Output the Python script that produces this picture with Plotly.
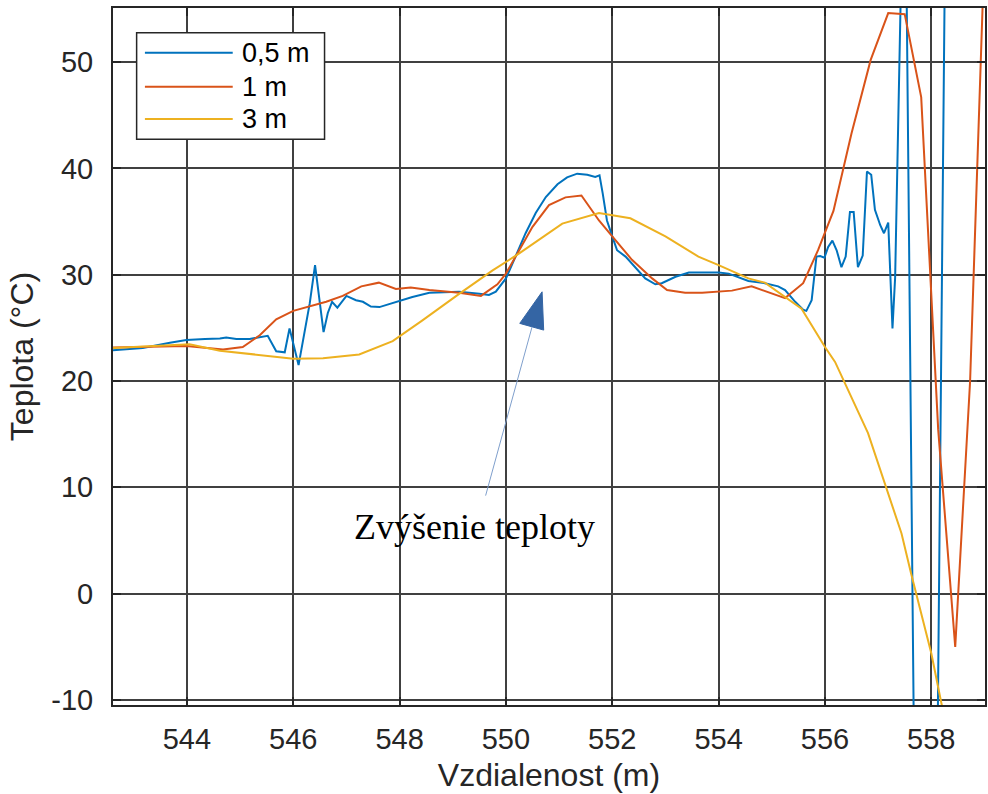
import plotly.graph_objects as go

# ---------------- data ----------------
x_05 = [542.61, 543.17, 543.68, 543.99, 544.34, 544.62, 544.74, 544.93, 545.18, 545.41,
        545.52, 545.68, 545.84, 545.93, 546.10, 546.31, 546.41, 546.57, 546.65, 546.73,
        546.83, 547.00, 547.18, 547.31, 547.46, 547.62, 547.93, 548.18, 548.24, 548.56,
        549.12, 549.50, 549.68, 549.81, 550.00, 550.18, 550.37, 550.56, 550.75, 550.97,
        551.15, 551.34, 551.53, 551.68, 551.76, 551.82, 551.90, 552.00, 552.09, 552.25,
        552.43, 552.62, 552.81, 552.93, 553.19, 553.44, 553.62, 554.00, 554.19, 554.37,
        554.56, 554.87, 555.12, 555.25, 555.44, 555.59, 555.65, 555.75, 555.84, 555.91,
        555.99, 556.06, 556.14, 556.22, 556.31, 556.39, 556.47, 556.54, 556.62, 556.71,
        556.79, 556.87, 556.94, 557.04, 557.11, 557.19, 557.27, 557.32, 557.50, 557.90,
        558.37]
y_05 = [22.9, 23.1, 23.6, 23.85, 23.95, 24.0, 24.1, 23.95, 23.95, 24.2,
        24.25, 22.8, 22.7, 24.95, 21.5, 27.3, 30.9, 24.6, 26.4, 27.45,
        26.9, 28.0, 27.6, 27.45, 27.0, 26.95, 27.45, 27.85, 27.9, 28.3,
        28.4, 28.2, 28.1, 28.4, 29.65, 31.7, 33.9, 35.8, 37.3, 38.5,
        39.15, 39.5, 39.4, 39.2, 39.35, 37.65, 35.1, 33.6, 32.3, 31.7,
        30.7, 29.65, 29.1, 29.2, 29.8, 30.2, 30.2, 30.2, 30.1, 29.75,
        29.4, 29.2, 28.9, 28.55, 27.45, 26.7, 26.6, 27.6, 31.7, 31.75,
        31.6, 32.6, 33.2, 32.3, 30.7, 31.7, 35.9, 35.9, 30.7, 31.8,
        39.7, 39.4, 36.1, 34.65, 33.9, 34.9, 24.95, 29.75, 75.0, -130.0,
        120.0]

x_1 = [542.61, 543.99, 544.68, 545.05, 545.37, 545.68, 546.00, 546.31, 546.62, 546.93,
       547.28, 547.61, 547.93, 548.21, 548.56, 549.12, 549.53, 549.84, 550.00, 550.25,
       550.50, 550.81, 551.12, 551.42, 551.75, 552.00, 552.37, 552.75, 553.03, 553.37,
       553.69, 554.25, 554.62, 555.25, 555.59, 555.87, 556.16, 556.50, 556.86, 557.19,
       557.50, 557.81, 558.13, 558.45, 558.73, 559.03]
y_1 = [23.15, 23.3, 22.97, 23.2, 24.3, 25.8, 26.6, 27.05, 27.45, 28.0,
       28.9, 29.25, 28.65, 28.8, 28.55, 28.3, 28.0, 29.1, 30.1, 32.3,
       34.5, 36.55, 37.27, 37.45, 35.1, 33.6, 31.4, 29.65, 28.55, 28.3,
       28.3, 28.5, 28.9, 27.8, 29.2, 32.3, 36.0, 43.3, 50.2, 54.6,
       54.5, 46.7, 15.4, -5.0, 20.0, 65.0]

x_3 = [542.61, 544.05, 544.62, 546.00, 546.56, 547.24, 547.87, 548.43, 549.12, 549.75,
       550.25, 551.06, 551.75, 552.34, 553.00, 553.62, 554.00, 554.56, 554.87, 555.25,
       555.56, 556.00, 556.19, 556.81, 557.44, 557.62, 558.00, 558.19, 558.31]
y_3 = [23.1, 23.45, 22.85, 22.1, 22.15, 22.5, 23.75, 25.7, 28.2, 30.4,
       32.0, 34.8, 35.8, 35.3, 33.6, 31.7, 30.9, 29.65, 29.25, 27.9,
       26.8, 23.2, 21.8, 15.1, 5.66, 1.9, -5.6, -10.3, -13.0]

series_names = ["0,5 m", "1 m", "3 m"]
series_colors = ["#0072BD", "#D95319", "#EDB120"]

x_ticks = [544, 546, 548, 550, 552, 554, 556, 558]
y_ticks = [-10, 0, 10, 20, 30, 40, 50]
x_range = [542.61, 559.01]
y_range = [-10.47, 55.08]

annot_text = "Zvýšenie teploty"
annot_text_pos = (549.40, 6.25)
arrow_start = (549.61, 9.08)
arrow_end = (550.49, 25.07)
arrow_head = [(550.68, 28.39), (550.26, 25.42), (550.71, 24.79)]

# ---------------- figure ----------------
fig = go.Figure()
for xs, ys, name, col in zip([x_05, x_1, x_3], [y_05, y_1, y_3], series_names, series_colors):
    fig.add_trace(go.Scatter(x=xs, y=ys, mode="lines", name=name,
                             line=dict(color=col, width=2), showlegend=False))

grid_col = "#404040"
axis_common = dict(showline=True, linecolor="#262626", linewidth=2, mirror="allticks",
                   ticks="inside", ticklen=8, tickwidth=1.5, tickcolor="#262626",
                   showgrid=True, gridcolor=grid_col, gridwidth=2, zeroline=False,
                   tickfont=dict(family="Liberation Sans", size=29, color="#262626"))

fig.update_xaxes(range=x_range, tickvals=x_ticks, ticktext=[str(v) for v in x_ticks],
                 title=dict(text="Vzdialenost (m)", font=dict(family="Liberation Sans", size=32, color="#262626"),
                            standoff=10),
                 ticklabelstandoff=7, **axis_common)
fig.update_yaxes(range=y_range, tickvals=y_ticks, ticktext=[str(v) for v in y_ticks],
                 title=dict(text="Teplota (°C)", font=dict(family="Liberation Sans", size=32, color="#262626"),
                            standoff=8),
                 ticklabelstandoff=12, **axis_common)

# annotation text and arrow
fig.add_annotation(x=annot_text_pos[0], y=annot_text_pos[1], text=annot_text, showarrow=False,
                   font=dict(family="Liberation Serif", size=36, color="black"))
fig.add_annotation(x=arrow_end[0], y=arrow_end[1], ax=arrow_start[0], ay=arrow_start[1],
                   axref="x", ayref="y", text="", showarrow=True, arrowhead=0,
                   arrowwidth=1, arrowcolor="#7f9fcc")
path = "M {} {} L {} {} L {} {} Z".format(arrow_head[0][0], arrow_head[0][1],
                                          arrow_head[1][0], arrow_head[1][1],
                                          arrow_head[2][0], arrow_head[2][1])
fig.add_shape(type="path", path=path, xref="x", yref="y",
              fillcolor="#3465a4", line=dict(color="#3465a4", width=1))

# legend (drawn manually to match long line samples)
leg_box = dict(x0=0.0271, x1=0.2426, y0=0.8116, y1=0.9646)
leg_line_x = (0.0366, 0.1373)
leg_rows_y = [0.9359, 0.8871, 0.8408]
leg_text_x = 0.1453
fig.add_shape(type="rect", xref="paper", yref="paper", fillcolor="white",
              line=dict(color="#262626", width=1.5), layer="above", **leg_box)
for name, col, yy in zip(series_names, series_colors, leg_rows_y):
    fig.add_shape(type="line", xref="paper", yref="paper", x0=leg_line_x[0], x1=leg_line_x[1],
                  y0=yy, y1=yy, line=dict(color=col, width=2), layer="above")
    fig.add_annotation(xref="paper", yref="paper", x=leg_text_x, y=yy, text=name,
                       showarrow=False, xanchor="left", yanchor="middle",
                       font=dict(family="Liberation Sans", size=27, color="black"))

fig.update_layout(width=988, height=794, margin=dict(l=113, r=1, t=8, b=89),
                  plot_bgcolor="white", paper_bgcolor="white", showlegend=False,
                  font=dict(family="Liberation Sans"))

fig.write_html("out.html")
